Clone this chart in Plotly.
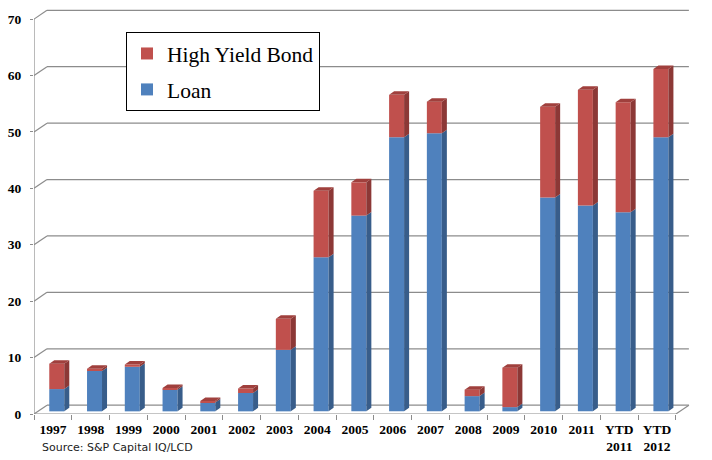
import plotly.graph_objects as go

# ---- data ----
categories = ["1997", "1998", "1999", "2000", "2001", "2002", "2003", "2004", "2005",
              "2006", "2007", "2008", "2009", "2010", "2011", "YTD<br>2011", "YTD<br>2012"]
loan = [3.95, 7.15, 7.9, 3.85, 1.55, 3.25, 10.9, 27.3, 34.7, 48.6, 49.3, 2.7, 0.75, 37.9, 36.5, 35.3, 48.6]
high_yield = [4.5, 0.4, 0.4, 0.3, 0.3, 0.8, 5.5, 11.8, 5.9, 7.5, 5.6, 1.15, 7.0, 16.1, 20.5, 19.5, 12.1]
y_ticks = [0, 10, 20, 30, 40, 50, 60, 70]
source_text = "Source: S&P Capital IQ/LCD"

# ---- style / pseudo-3D geometry (in axis units) ----
BLUE, BLUE_SIDE = "#4F81BD", "#385D8A"
RED, RED_SIDE, RED_TOP = "#C0504D", "#8C3836", "#A0403D"
GRID = "#8C8C8C"
WALL_DX, WALL_DY = 0.344, 1.56     # full depth offset (back wall)
BAR_DX, BAR_DY = 0.103, 0.47       # front face of bars (depth position)
SIDE_DX, SIDE_DY = 0.133, 0.62     # bar depth
BAR_W = 0.397

n = len(categories)
xs = list(range(n))
bar_x = [i + BAR_DX for i in xs]
loan_base = [BAR_DY] * n
hy_base = [BAR_DY + l for l in loan]

fig = go.Figure()
fig.add_trace(go.Bar(x=bar_x, y=loan, base=loan_base, width=BAR_W, name="Loan",
                     marker=dict(color=BLUE, line=dict(width=0)), legendgroup="b",
                     legendrank=2, hoverinfo="skip"))
fig.add_trace(go.Bar(x=bar_x, y=high_yield, base=hy_base, width=BAR_W, name="High Yield Bond",
                     marker=dict(color=RED, line=dict(width=0)), legendgroup="a",
                     legendrank=1, hoverinfo="skip"))


def side_polys(bases, vals):
    px, py = [], []
    for i in xs:
        xr = bar_x[i] + BAR_W / 2
        b, t = bases[i], bases[i] + vals[i]
        px += [xr, xr + SIDE_DX, xr + SIDE_DX, xr, xr, None]
        py += [b, b + SIDE_DY, t + SIDE_DY, t, b, None]
    return px, py


def top_polys(bases, vals):
    px, py = [], []
    for i in xs:
        xl, xr = bar_x[i] - BAR_W / 2, bar_x[i] + BAR_W / 2
        t = bases[i] + vals[i]
        px += [xl, xl + SIDE_DX, xr + SIDE_DX, xr, xl, None]
        py += [t, t + SIDE_DY, t + SIDE_DY, t, t, None]
    return px, py


for (bases, vals, col) in [(loan_base, loan, BLUE_SIDE), (hy_base, high_yield, RED_SIDE)]:
    px, py = side_polys(bases, vals)
    fig.add_trace(go.Scatter(x=px, y=py, mode="lines", fill="toself", fillcolor=col,
                             line=dict(width=0, color=col), showlegend=False, hoverinfo="skip"))
px, py = top_polys(hy_base, high_yield)
fig.add_trace(go.Scatter(x=px, y=py, mode="lines", fill="toself", fillcolor=RED_TOP,
                         line=dict(width=0, color=RED_TOP), showlegend=False, hoverinfo="skip"))

# ---- walls / gridlines as shapes below the bars ----
x0, x1 = -0.5, n - 0.5
shapes = []
for v in y_ticks:
    shapes.append(dict(type="line", xref="x", yref="y", x0=x0, y0=v, x1=x0 + WALL_DX, y1=v + WALL_DY,
                       line=dict(color=GRID, width=1.2), layer="below"))
    shapes.append(dict(type="line", xref="x", yref="y", x0=x0 + WALL_DX, y0=v + WALL_DY,
                       x1=x1 + WALL_DX, y1=v + WALL_DY, line=dict(color=GRID, width=1.2), layer="below"))
# front vertical axis line
shapes.append(dict(type="line", xref="x", yref="y", x0=x0, y0=0, x1=x0, y1=y_ticks[-1],
                   line=dict(color=GRID, width=1.2), layer="below"))
# front floor edge and right floor diagonal
shapes.append(dict(type="line", xref="x", yref="y", x0=x0, y0=0, x1=x1, y1=0,
                   line=dict(color=GRID, width=1.2), layer="below"))
shapes.append(dict(type="line", xref="x", yref="y", x0=x1, y0=0, x1=x1 + WALL_DX, y1=WALL_DY,
                   line=dict(color=GRID, width=1.2), layer="below"))

fig.update_layout(
    width=712, height=460,
    margin=dict(l=34, r=21, t=5, b=46),
    paper_bgcolor="white", plot_bgcolor="white",
    barmode="overlay",
    shapes=shapes,
    showlegend=True,
    legend=dict(x=(126 - 34) / 657, y=0.934, xanchor="left", yanchor="top",
                traceorder="grouped", tracegroupgap=5,
                bgcolor="white", bordercolor="black", borderwidth=1,
                font=dict(family="Liberation Serif", size=21.5, color="black")),
    xaxis=dict(range=[-0.5, n - 0.1], tickmode="array", tickvals=xs, ticktext=categories,
               showgrid=False, zeroline=False, showline=False, ticks="",
               tickfont=dict(family="Liberation Serif", size=13.5, color="black", weight="bold"),
               ticklabelstandoff=5,
               minor=dict(tickmode="array", tickvals=[i - 0.5 for i in range(n + 1)],
                          ticks="outside", ticklen=5, tickcolor=GRID, tickwidth=1, showgrid=False)),
    yaxis=dict(range=[0, 72.5], tickmode="array", tickvals=y_ticks,
               showgrid=False, zeroline=False, showline=False,
               ticks="outside", ticklen=3, tickcolor=GRID, tickwidth=1,
               tickfont=dict(family="Liberation Serif", size=13.5, color="black", weight="bold"),
               ticklabelstandoff=6),
    annotations=[dict(text=source_text, xref="paper", yref="paper", x=(40 - 34) / 657, y=-0.083,
                      xanchor="left", yanchor="middle", showarrow=False,
                      font=dict(family="DejaVu Sans", size=11, color="#222222"))],
)

fig.write_html("out.html")
